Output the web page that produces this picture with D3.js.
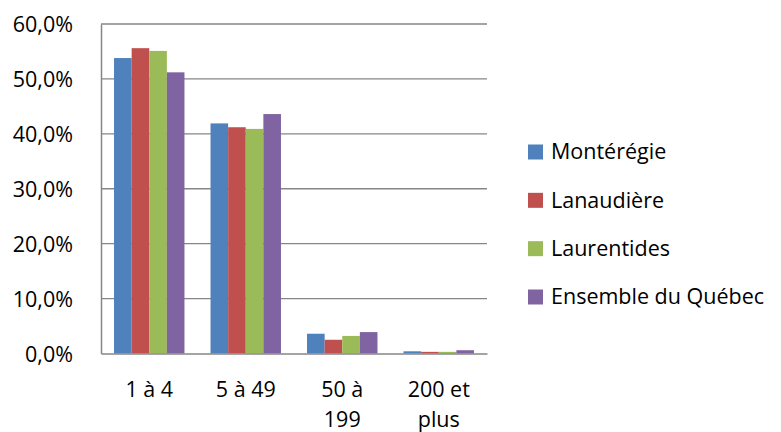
<!DOCTYPE html>
<html>
<head>
<meta charset="utf-8">
<script src="https://cdn.jsdelivr.net/npm/d3@7"></script>
<style>
  html, body { margin: 0; padding: 0; background: #fff; }
  svg { display: block; }
  text { font-family: "Open Sans", "Liberation Sans", sans-serif; fill: #000; }
</style>
</head>
<body>
<svg id="chart" width="781" height="432"></svg>
<script>
// Share of establishments by size class (number of employees)
const categories = [["1 à 4"], ["5 à 49"], ["50 à", "199"], ["200 et", "plus"]];
const seriesNames = ["Montérégie", "Lanaudière", "Laurentides", "Ensemble du Québec"];
const monteregie  = [53.8, 41.9, 3.6, 0.4];
const lanaudiere  = [55.6, 41.2, 2.5, 0.3];
const laurentides = [55.1, 40.9, 3.2, 0.3];
const quebec      = [51.2, 43.6, 3.9, 0.6];
const yTicks = [0, 10, 20, 30, 40, 50, 60];
const colors = ["#4F81BD", "#C0504D", "#9BBB59", "#8064A2"];

const series = [monteregie, lanaudiere, laurentides, quebec];
const FONT_SIZE = 21.5;

const svg = d3.select("#chart");
const plot = { left: 101, right: 487, top: 24, bottom: 353.5 };

const x = d3.scaleBand()
  .domain(d3.range(categories.length))
  .range([plot.left, plot.right])
  .paddingInner(0.27)
  .paddingOuter(0.135);

const xSub = d3.scaleBand()
  .domain(d3.range(series.length))
  .range([0, x.bandwidth()]);

const y = d3.scaleLinear().domain([0, 60]).range([plot.bottom, plot.top]);

// horizontal gridlines
svg.append("g")
  .selectAll("line")
  .data(yTicks.filter(t => t > 0))
  .join("line")
  .attr("x1", plot.left).attr("x2", plot.right)
  .attr("y1", d => y(d)).attr("y2", d => y(d))
  .attr("stroke", "#868686").attr("stroke-width", 1.3);

// bars
series.forEach((vals, si) => {
  svg.append("g")
    .selectAll("rect")
    .data(vals)
    .join("rect")
    .attr("x", (d, i) => x(i) + xSub(si))
    .attr("y", d => y(d))
    .attr("width", xSub.bandwidth())
    .attr("height", d => y(0) - y(d))
    .attr("fill", colors[si]);
});

// y axis
const yAxis = d3.axisLeft(y)
  .tickValues(yTicks)
  .tickSize(0)
  .tickPadding(28)
  .tickFormat(d => d3.format(".1f")(d).replace(".", ",") + "%");
const yg = svg.append("g").attr("transform", `translate(${plot.left},0)`).call(yAxis);
yg.select(".domain").attr("stroke", "#868686").attr("stroke-width", 1.5);
yg.selectAll("text")
  .attr("font-size", FONT_SIZE)
  .attr("fill", "#000")
  .attr("dy", "0.37em")
  .attr("font-family", "'Open Sans', sans-serif");

// x axis
const xAxis = d3.axisBottom(x).tickSize(0).tickFormat("");
const xg = svg.append("g").attr("transform", `translate(0,${plot.bottom})`).call(xAxis);
xg.select(".domain").attr("stroke", "#868686").attr("stroke-width", 1.5);

svg.append("g")
  .selectAll("text")
  .data(categories)
  .join("text")
  .attr("x", (d, i) => x(i) + x.bandwidth() / 2)
  .attr("y", 397)
  .attr("text-anchor", "middle")
  .attr("font-size", FONT_SIZE)
  .each(function (lines) {
    d3.select(this).selectAll("tspan")
      .data(lines)
      .join("tspan")
      .attr("x", d3.select(this).attr("x"))
      .attr("dy", (l, j) => j === 0 ? 0 : 30)
      .text(l => l);
  });

// legend
const legend = svg.append("g");
const rowY = d3.scalePoint().domain(d3.range(seriesNames.length)).range([152, 297]);
seriesNames.forEach((name, i) => {
  legend.append("rect")
    .attr("x", 528).attr("y", rowY(i) - 7.5)
    .attr("width", 15).attr("height", 15)
    .attr("fill", colors[i]);
  legend.append("text")
    .attr("x", 551).attr("y", rowY(i))
    .attr("dy", "0.34em")
    .attr("font-size", FONT_SIZE)
    .text(name);
});
</script>
</body>
</html>
